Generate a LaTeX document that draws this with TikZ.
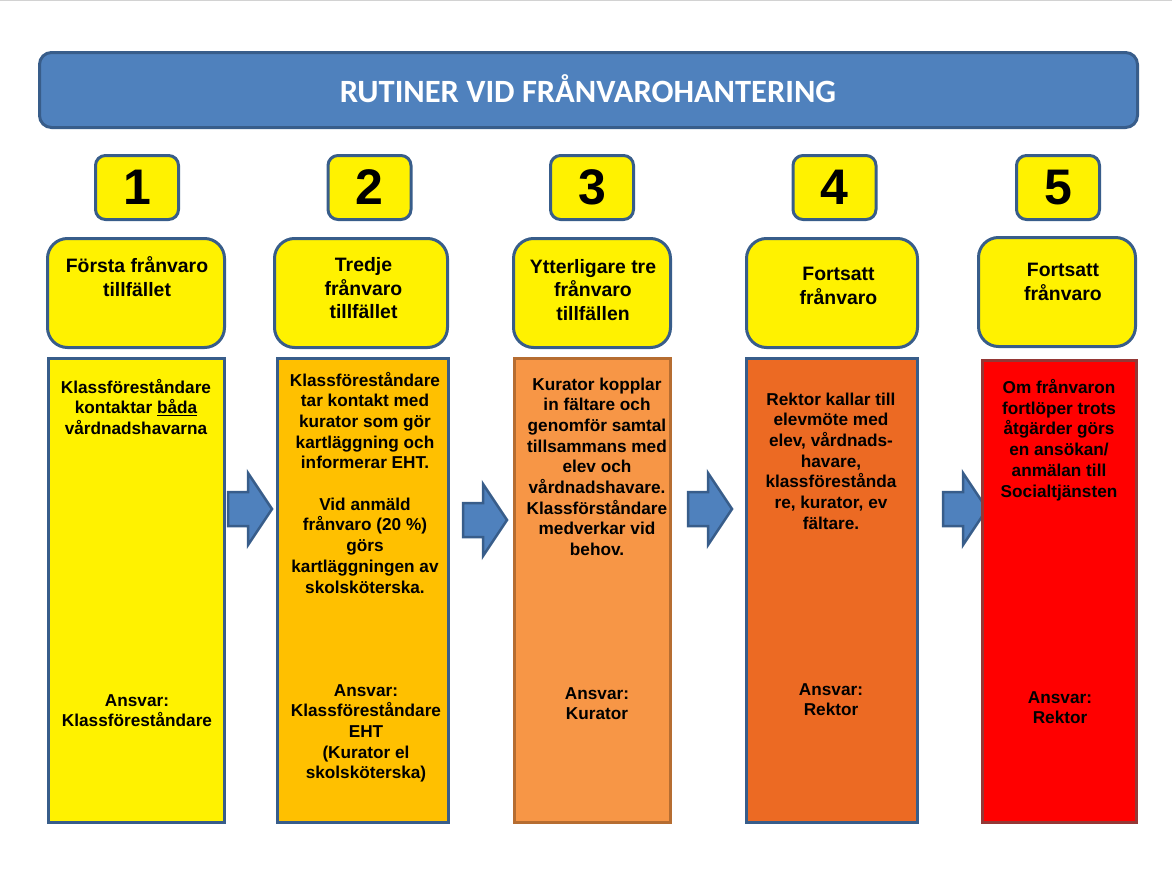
\documentclass[tikz,border=0pt]{standalone}
\usepackage{fontspec}
\setmainfont{Liberation Sans}
\newfontfamily\calfont{Carlito}
\usepackage{tikz}
\usetikzlibrary{positioning,calc}

\definecolor{boxblue}{HTML}{385D8A}
\definecolor{bannerblue}{HTML}{4F81BD}
\definecolor{stepgold}{HTML}{FFC000}
\definecolor{steporange}{HTML}{F79646}
\definecolor{stepbrown}{HTML}{B66D31}
\definecolor{stepdark}{HTML}{EC6A23}
\definecolor{stepred}{HTML}{FF0000}
\definecolor{stepmaroon}{HTML}{953735}

\begin{document}
\begin{tikzpicture}[
  x=1pt, y=-1pt,
  banner/.style={rectangle, draw=boxblue, line width=3pt, fill=bannerblue,
    rounded corners=12pt, minimum width=1098pt, minimum height=75pt},
  numbox/.style={rectangle, draw=boxblue, line width=3pt, fill=yellow,
    rounded corners=10pt, minimum width=83pt, minimum height=64pt,
    inner sep=0pt, font=\bfseries\fontsize{50}{60}\selectfont},
  headbox/.style={rectangle, draw=boxblue, line width=3pt, fill=yellow,
    rounded corners=20pt, minimum height=109pt},
  colbox/.style={rectangle, line width=3pt, minimum height=464pt},
  headtxt/.style={anchor=base, align=center, inner sep=0pt,
    font=\bfseries\fontsize{19.4}{23.3}\selectfont},
  bodytxt/.style={anchor=base, align=center, inner sep=0pt,
    font=\bfseries\fontsize{17.2}{20.7}\selectfont},
  blockarrow/.style={draw=boxblue, line width=2.5pt, fill=bannerblue, line join=miter}
]
\useasboundingbox (0,0) rectangle (1172,878);
\draw[gray!35, line width=1pt] (0,0.5) -- (1172,0.5);

% banner
\node[banner] (banner) at (588.5,90) {};
\node[anchor=base, inner sep=0pt, text=white,
  font=\calfont\bfseries\fontsize{32.5}{39}\selectfont] (title) at (588,102.5)
  {RUTINER VID FRÅNVAROHANTERING};

% step numbers
\node[numbox] (n1) at (137,187.5) {1};
\node[numbox] (n2) at (369.5,187.5) {2};
\node[numbox] (n3) at (592,187.5) {3};
\node[numbox] (n4) at (834.5,187.5) {4};
\node[numbox] (n5) at (1058,187.5) {5};

% step headings (y = baseline of the last line)
\node[headbox, minimum width=177pt] (h1) at (136,293) {};
\node[headbox, minimum width=173pt] (h2) at (361,293) {};
\node[headbox, minimum width=157pt] (h3) at (592,293) {};
\node[headbox, minimum width=171pt] (h4) at (832,293) {};
\node[headbox, minimum width=157pt] (h5) at (1057,292) {};

\node[headtxt] (ht1) at (137,296) {Första frånvaro\\tillfället};
\node[headtxt] (ht2) at (363.5,318.5) {Tredje\\frånvaro\\tillfället};
\node[headtxt] (ht3) at (593,320) {Ytterligare tre\\frånvaro\\tillfällen};
\node[headtxt] (ht4) at (838.5,304) {Fortsatt\\frånvaro};
\node[headtxt] (ht5) at (1063,300) {Fortsatt\\frånvaro};

% arrows between the columns
\foreach \ax/\ay in {228/509, 463/520, 688/509, 943/509}
  \draw[blockarrow] (\ax,\ay-17) -- ++(20,0) -- ++(0,-19) -- ++(24,36)
    -- ++(-24,36) -- ++(0,-19) -- ++(-20,0) -- cycle;

% columns
\node[colbox, draw=boxblue, fill=yellow, minimum width=176pt] (b1) at (136.5,590.5) {};
\node[colbox, draw=boxblue, fill=stepgold, minimum width=171pt] (b2) at (363,590.5) {};
\node[colbox, draw=stepbrown, fill=steporange, minimum width=156pt] (b3) at (592.5,590.5) {};
\node[colbox, draw=boxblue, fill=stepdark, minimum width=171pt] (b4) at (832,590.5) {};
\node[colbox, draw=stepmaroon, fill=stepred, minimum width=154pt,
  minimum height=462pt] (b5) at (1059.5,591.5) {};

\node[bodytxt] (t1) at (136,434.4) {Klassföreståndare\\kontaktar \underline{båda}\\vårdnadshavarna};
\node[bodytxt] (r1) at (137,726.7) {Ansvar:\\Klassföreståndare};

\node[bodytxt] (t2) at (365,593) {Klassföreståndare\\tar kontakt med\\kurator som gör\\kartläggning och\\informerar EHT.\\[20.7pt]Vid anmäld\\frånvaro (20 \%)\\görs\\kartläggningen av\\skolsköterska.};
\node[bodytxt] (r2) at (366,778.8) {Ansvar:\\Klassföreståndare\\EHT\\(Kurator el\\skolsköterska)};

\node[bodytxt] (t3) at (597,555.6) {Kurator kopplar\\in fältare och\\genomför samtal\\tillsammans med\\elev och\\vårdnadshavare.\\Klassförståndare\\medverkar vid\\behov.};
\node[bodytxt] (r3) at (597,719.7) {Ansvar:\\Kurator};

\node[bodytxt] (t4) at (831,529.2) {Rektor kallar till\\elevmöte med\\elev, vårdnads-\\havare,\\klassförestånda\\re, kurator, ev\\fältare.};
\node[bodytxt] (r4) at (831,715.7) {Ansvar:\\Rektor};

\node[bodytxt] (t5) at (1059,497) {Om frånvaron\\fortlöper trots\\åtgärder görs\\en ansökan/\\anmälan till\\Socialtjänsten};
\node[bodytxt] (r5) at (1060,723.7) {Ansvar:\\Rektor};
\end{tikzpicture}
\end{document}
